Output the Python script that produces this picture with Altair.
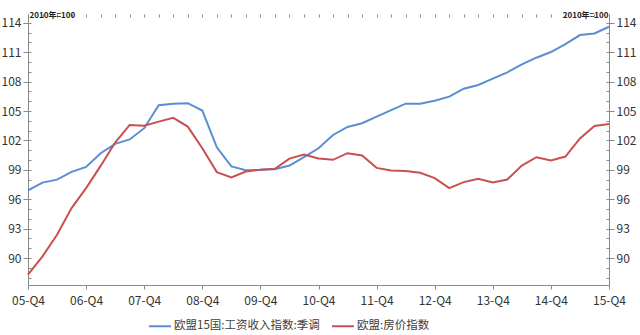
import altair as alt
import pandas as pd

quarters = [
    "05-Q4",
    "06-Q1", "06-Q2", "06-Q3", "06-Q4",
    "07-Q1", "07-Q2", "07-Q3", "07-Q4",
    "08-Q1", "08-Q2", "08-Q3", "08-Q4",
    "09-Q1", "09-Q2", "09-Q3", "09-Q4",
    "10-Q1", "10-Q2", "10-Q3", "10-Q4",
    "11-Q1", "11-Q2", "11-Q3", "11-Q4",
    "12-Q1", "12-Q2", "12-Q3", "12-Q4",
    "13-Q1", "13-Q2", "13-Q3", "13-Q4",
    "14-Q1", "14-Q2", "14-Q3", "14-Q4",
    "15-Q1", "15-Q2", "15-Q3", "15-Q4",
]
major_quarters = ["05-Q4", "06-Q4", "07-Q4", "08-Q4", "09-Q4", "10-Q4",
                  "11-Q4", "12-Q4", "13-Q4", "14-Q4", "15-Q4"]

wage_name = "欧盟15国:工资收入指数:季调"
house_name = "欧盟:房价指数"

wage = [96.9, 97.7, 98.0, 98.8, 99.3, 100.7, 101.65, 102.1, 103.25, 105.6,
        105.75, 105.8, 105.05, 101.3, 99.35, 98.97, 99.0, 99.07, 99.44, 100.3,
        101.2, 102.56, 103.38, 103.75, 104.43, 105.1, 105.75, 105.75, 106.05, 106.47,
        107.28, 107.66, 108.3, 108.95, 109.76, 110.44, 111.02, 111.83, 112.75, 112.92,
        113.6]
house = [88.3, 90.17, 92.38, 95.1, 97.14, 99.4, 101.78, 103.58, 103.51, 103.92,
         104.3, 103.41, 101.2, 98.77, 98.22, 98.83, 99.0, 99.1, 100.15, 100.56,
         100.15, 100.02, 100.7, 100.46, 99.2, 98.93, 98.87, 98.7, 98.15, 97.14,
         97.75, 98.08, 97.71, 98.01, 99.44, 100.29, 99.95, 100.36, 102.2, 103.48,
         103.68]

y_major = [90, 93, 96, 99, 102, 105, 108, 111, 114]
y_minor = list(range(88, 115))
y_domain = [87.25, 114.9]
unit_note = "2010年=100"

df = pd.DataFrame({
    "q": quarters * 2,
    "v": wage + house,
    "s": [wage_name] * len(wage) + [house_name] * len(house),
})

FONT = "Noto Sans CJK SC"
AXIS_COLOR = "#8a8a8a"
LABEL_COLOR = "#333333"

color = alt.Color(
    "s:N",
    scale=alt.Scale(domain=[wage_name, house_name], range=["#5B8DD3", "#C9504F"]),
    legend=alt.Legend(
        title=None, orient="none", direction="horizontal",
        legendX=120, legendY=300,
        symbolType="stroke", symbolStrokeWidth=2, symbolSize=484,
        labelFont=FONT, labelFontSize=11.5, labelColor="#404040",
        labelOffset=2, columnPadding=8, padding=0,
    ),
)

def xenc(axis):
    return alt.X("q:O", sort=quarters, scale=alt.Scale(type="point", padding=0),
                 axis=axis)

def yscale():
    return alt.Scale(domain=y_domain, nice=False, zero=False)

x_major_axis = alt.Axis(
    values=major_quarters, labelAngle=0, title=None, grid=False,
    tickSize=4, labelPadding=6, domainColor=AXIS_COLOR, tickColor=AXIS_COLOR,
    labelFont=FONT, labelFontSize=12, labelColor=LABEL_COLOR,
)
x_minor_axis = alt.Axis(
    values=quarters, labels=False, domain=False, title=None, grid=False,
    tickSize=3, offset=-3, tickColor=AXIS_COLOR,
)

def y_major_axis(orient):
    return alt.Axis(
        orient=orient, values=y_major, grid=False, tickSize=5, labelPadding=2,
        domainColor=AXIS_COLOR, tickColor=AXIS_COLOR,
        labelFont=FONT, labelFontSize=12, labelColor=LABEL_COLOR,
        title=unit_note, titleAngle=0, titleFont=FONT, titleFontSize=8,
        titleFontWeight="bold", titleColor="#222222",
        titleX=1 if orient == "left" else -1, titleY=1,
        titleAlign="left" if orient == "left" else "right",
        titleBaseline="middle",
    )

def y_minor_axis(orient):
    return alt.Axis(
        orient=orient, values=y_minor, labels=False, domain=False, title=None,
        grid=False, tickSize=3, offset=-3, tickColor=AXIS_COLOR,
    )

base = alt.Chart(df)

wage_line = base.transform_filter(alt.datum.s == wage_name).mark_line(strokeWidth=2).encode(
    x=xenc(x_major_axis),
    y=alt.Y("v:Q", scale=yscale(), axis=y_major_axis("left")),
    color=color,
)
house_line = base.transform_filter(alt.datum.s == house_name).mark_line(strokeWidth=2).encode(
    x=xenc(None),
    y=alt.Y("v:Q", scale=yscale(), axis=y_major_axis("right")),
    color=color,
)
left_minor = base.transform_filter(alt.datum.s == wage_name).mark_line(opacity=0).encode(
    x=xenc(x_minor_axis),
    y=alt.Y("v:Q", scale=yscale(), axis=y_minor_axis("left")),
)
right_minor = base.transform_filter(alt.datum.s == house_name).mark_line(opacity=0).encode(
    x=xenc(None),
    y=alt.Y("v:Q", scale=yscale(), axis=y_minor_axis("right")),
)

chart = alt.layer(wage_line, house_line, left_minor, right_minor).resolve_scale(
    y="independent", color="shared"
).resolve_axis(x="independent").properties(
    width=581, height=271,
    autosize=alt.AutoSizeParams(type="none"),
    padding={"left": 28, "top": 14, "right": 31, "bottom": 50},
    background="white",
).configure_view(strokeWidth=0)

chart.save("out.html", embed_options={"renderer": "svg", "actions": False})
